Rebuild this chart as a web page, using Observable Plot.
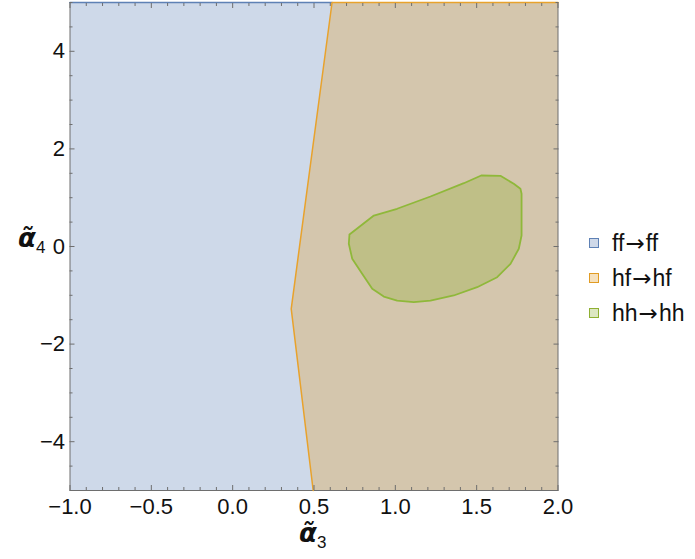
<!DOCTYPE html>
<html><head><meta charset="utf-8">
<script src="https://cdn.jsdelivr.net/npm/d3@7"></script>
<script src="https://cdn.jsdelivr.net/npm/@observablehq/plot@0.6"></script>
<style>
body{margin:0;background:#fff;font-family:"Liberation Sans",Arial,sans-serif;}
#wrap{position:relative;width:695px;height:559px;overflow:hidden;}
#wrap svg{position:absolute;left:0;top:0;}
.lg{position:absolute;left:589px;font-size:23px;color:#111;white-space:nowrap;}
.lg span.sw{display:inline-block;width:8px;height:8px;border:1px solid;margin-right:13px;vertical-align:middle;position:relative;top:-2px;}
.lg span.ar{font-family:"DejaVu Sans",sans-serif;font-size:23px;margin:0 1px;}
.lab{position:absolute;font-size:22px;color:#111;white-space:nowrap;}
.lab i{font-weight:bold;font-style:italic;font-family:"DejaVu Sans",sans-serif;font-size:26px;}
.lab sub{font-size:17px;vertical-align:baseline;position:relative;top:6px;font-weight:normal;font-family:"Liberation Sans",Arial,sans-serif;}
</style></head><body><div id="wrap"></div>
<script>
// domain
const xDomain = [-1, 2];
const yDomain = [-5, 5];
// legend
const regionLabels = ["ff\u2192ff", "hf\u2192hf", "hh\u2192hh"];
const regionColors = ["#5e81b5", "#e19c24", "#8fb032"];
// ff→ff region (whole plotted domain)
const ffX = [-1, 2, 2, -1];
const ffY = [5, 5, -5, -5];
// hf→hf region (right of the boundary)
const hfX = [0.611, 2, 2, 0.495, 0.36];
const hfY = [5, 5, -5, -5, -1.277];
// hf boundary stroke
const hfEdgeX = [2, 0.611, 0.36, 0.495];
const hfEdgeY = [5, 5, -1.277, -5];
// ff top stroke
const ffEdgeX = [-1, 0.611];
const ffEdgeY = [5, 5];
// hh→hh region
const hhX = [0.718, 0.868, 1.011, 1.216, 1.421, 1.528, 1.646, 1.728, 1.769, 1.776, 1.776, 1.759, 1.708, 1.626, 1.503, 1.359, 1.216, 1.113, 1.011, 0.929, 0.858, 0.796, 0.735, 0.714, 0.718];
const hhY = [0.246, 0.635, 0.773, 1.025, 1.297, 1.455, 1.449, 1.285, 1.182, 1.080, 0.225, -0.047, -0.355, -0.629, -0.834, -1.004, -1.107, -1.141, -1.107, -1.025, -0.867, -0.559, -0.252, 0.055, 0.246];
// ticks
const xMajor = [-1, -0.5, 0, 0.5, 1, 1.5, 2];
const yMajor = [-4, -2, 0, 2, 4];
const xMinor = d3.range(-10, 21).map(d => d / 10).filter(d => !xMajor.some(m => Math.abs(m - d) < 1e-9));
const yMinor = d3.range(-10, 11).map(d => d / 2).filter(d => !yMajor.includes(d));

const pts = (xs, ys) => xs.map((x, i) => ({x, y: ys[i]}));
const ff = pts(ffX, ffY), hf = pts(hfX, hfY), hh = pts(hhX, hhY);
const hfEdge = pts(hfEdgeX, hfEdgeY), ffEdge = pts(ffEdgeX, ffEdgeY);

const tickColor = "#6e6e6e";
const W = 695, H = 559;
const chart = Plot.plot({
  width: W, height: H,
  marginLeft: 69.5, marginRight: 137.5, marginTop: 2, marginBottom: 69,
  style: {fontFamily: "'Liberation Sans', Arial, sans-serif", background: "transparent", color: "#111"},
  x: {domain: xDomain, axis: null},
  y: {domain: yDomain, axis: null},
  marks: [
    Plot.line(ff, {x: "x", y: "y", fill: regionColors[0], fillOpacity: 0.3, stroke: "none"}),
    Plot.line(hf, {x: "x", y: "y", fill: regionColors[1], fillOpacity: 0.3, stroke: "none"}),
    Plot.line(hh, {x: "x", y: "y", fill: regionColors[2], fillOpacity: 0.3, stroke: "none"}),
    Plot.frame({stroke: tickColor, strokeWidth: 1}),
    Plot.line(ffEdge, {x: "x", y: "y", stroke: regionColors[0], strokeWidth: 1.6}),
    Plot.line(hfEdge, {x: "x", y: "y", stroke: "#e8a22c", strokeWidth: 1.5}),
    Plot.line(hh, {x: "x", y: "y", stroke: "#8fb83a", strokeWidth: 1.8, curve: "linear"}),
    // inward ticks
    Plot.axisX(xMajor, {anchor: "bottom", tickSize: 5, dy: -5, fill: "none", label: null, stroke: tickColor}),
    Plot.axisX(xMinor, {anchor: "bottom", tickSize: 3, dy: -3, fill: "none", label: null, stroke: tickColor}),
    Plot.axisX(xMajor, {anchor: "top", tickSize: 5, dy: 5, fill: "none", label: null, stroke: tickColor}),
    Plot.axisX(xMinor, {anchor: "top", tickSize: 3, dy: 3, fill: "none", label: null, stroke: tickColor}),
    Plot.axisY(yMajor, {anchor: "left", tickSize: 5, dx: 5, fill: "none", label: null, stroke: tickColor}),
    Plot.axisY(yMinor, {anchor: "left", tickSize: 3, dx: 3, fill: "none", label: null, stroke: tickColor}),
    Plot.axisY(yMajor, {anchor: "right", tickSize: 5, dx: -5, fill: "none", label: null, stroke: tickColor}),
    Plot.axisY(yMinor, {anchor: "right", tickSize: 3, dx: -3, fill: "none", label: null, stroke: tickColor}),
    // tick labels
    Plot.axisX(xMajor, {anchor: "bottom", tickSize: 0, tickPadding: 8, stroke: "none", label: null, fontSize: 22, fill: "#111", tickFormat: d3.format(".1f")}),
    Plot.axisY(yMajor, {anchor: "left", tickSize: 0, tickPadding: 5, stroke: "none", label: null, fontSize: 22, fill: "#111", tickFormat: d3.format("d")})
  ]
});
const wrap = document.getElementById("wrap");
wrap.appendChild(chart);

// legend
const legendTops = [230, 265, 300];
const swFill = ["#cfd9e9", "#f6e1bd", "#dde7c2"];
regionLabels.forEach((t, i) => {
  const d = document.createElement("div");
  d.className = "lg";
  d.style.top = legendTops[i] + "px";
  const [a, b] = t.split("\u2192");
  d.innerHTML = `<span class="sw" style="border-color:${regionColors[i]};background:${swFill[i]}"></span>${a}<span class="ar">\u2192</span>${b}`;
  wrap.appendChild(d);
});
// axis labels
const xl = document.createElement("div");
xl.className = "lab";
xl.style.left = "299px"; xl.style.top = "518px";
xl.innerHTML = "<i>\u03b1\u0303</i><sub>3</sub>";
wrap.appendChild(xl);
const yl = document.createElement("div");
yl.className = "lab";
yl.style.left = "18px"; yl.style.top = "223px";
yl.innerHTML = "<i>\u03b1\u0303</i><sub>4</sub>";
wrap.appendChild(yl);
</script></body></html>
